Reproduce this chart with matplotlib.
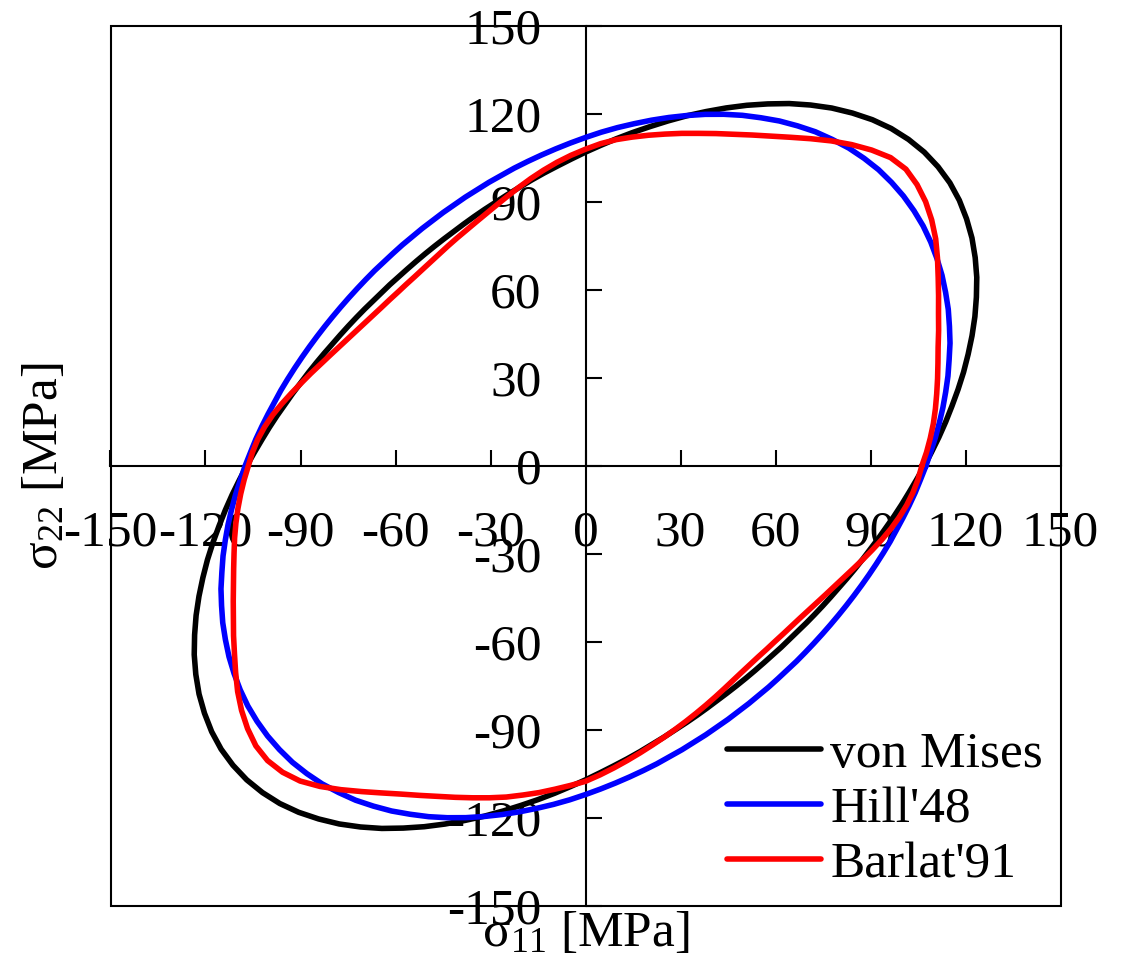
import numpy as np
import matplotlib
matplotlib.use('Agg')
import matplotlib.pyplot as plt
from matplotlib.patches import Rectangle

# ---- data: polar readings (angle in degrees, radius in MPa) of the yield loci ----
angles_deg = [i * 2.5 for i in range(144)]

von_mises_half = [107.0, 109.4, 112.0, 114.7, 117.5, 120.5, 123.6, 126.7, 129.9, 133.1,
                  136.2, 139.3, 142.1, 144.7, 146.9, 148.8, 150.2, 151.0, 151.3, 151.0,
                  150.2, 148.8, 146.9, 144.7, 142.1, 139.3, 136.2, 133.1, 129.9, 126.7,
                  123.6, 120.5, 117.5, 114.7, 112.0, 109.4, 107.0, 104.7, 102.6, 100.7,
                  98.9, 97.2, 95.7, 94.3, 93.1, 92.0, 91.0, 90.1, 89.4, 88.8,
                  88.3, 87.9, 87.6, 87.4, 87.4, 87.4, 87.6, 87.9, 88.3, 88.8,
                  89.4, 90.1, 91.0, 92.0, 93.1, 94.3, 95.7, 97.2, 98.9, 100.7,
                  102.6, 104.7]
von_mises_r = von_mises_half + von_mises_half

hill48_half = [107.5, 109.1, 110.9, 112.7, 114.6, 116.5, 118.5, 120.4, 122.5, 124.4,
               126.4, 128.2, 130.0, 131.6, 133.1, 134.4, 135.4, 136.2, 136.7, 137.0,
               136.9, 136.6, 135.9, 135.1, 133.9, 132.6, 131.0, 129.4, 127.6, 125.7,
               123.7, 121.7, 119.7, 117.7, 115.8, 113.9, 112.0, 110.2, 108.5, 106.9,
               105.4, 104.0, 102.6, 101.4, 100.2, 99.2, 98.2, 97.4, 96.6, 96.0,
               95.4, 95.0, 94.6, 94.3, 94.2, 94.1, 94.1, 94.2, 94.4, 94.7,
               95.1, 95.6, 96.2, 96.9, 97.7, 98.6, 99.6, 100.6, 101.8, 103.1,
               104.5, 105.9]
hill48_r = hill48_half + hill48_half

barlat91_r = [
    # 0 .. 87.5 deg
    106.2, 107.8, 109.3, 110.8, 112.2, 113.6, 115.1, 116.7, 118.5, 120.7,
    123.0, 125.7, 128.6, 131.8, 135.0, 137.8, 140.2, 142.0, 143.1, 142.6,
    140.6, 138.1, 135.3, 132.3, 129.4, 126.8, 124.5, 122.4, 120.6, 118.9,
    117.4, 115.9, 114.5, 113.1, 111.7, 110.0,
    # 90 .. 177.5 deg
    108.0, 106.0, 103.9, 101.7, 99.5, 97.3, 95.2, 93.3, 91.6, 90.1,
    88.8, 87.7, 86.7, 85.8, 85.1, 84.5, 84.1, 83.9, 83.8, 83.9,
    84.1, 84.5, 85.1, 85.8, 86.7, 87.8, 89.1, 90.6, 92.3, 94.1,
    96.1, 98.2, 100.3, 102.2, 103.9, 105.3,
    # 180 .. 267.5 deg
    106.5, 107.9, 109.3, 110.7, 112.1, 113.5, 114.9, 116.5, 118.3, 120.4,
    122.7, 125.3, 128.0, 131.0, 134.1, 136.9, 139.3, 141.2, 142.0, 141.6,
    140.2, 137.7, 134.7, 131.6, 128.7, 126.1, 123.9, 121.9, 120.2, 118.6,
    117.1, 115.6, 113.9, 112.3, 110.6, 109.0,
    # 270 .. 357.5 deg
    107.5, 105.4, 103.3, 101.25, 99.3, 97.45, 95.75, 94.15, 92.65, 91.25,
    89.95, 88.75, 87.65, 86.7, 85.9, 85.3, 84.9, 84.7, 84.6, 84.7,
    84.9, 85.3, 85.9, 86.7, 87.6, 88.7, 90.0, 91.5, 93.2, 95.0,
    96.9, 98.8, 100.6, 102.3, 103.8, 105.1,
]

series_labels = ["von Mises", "Hill'48", "Barlat'91"]
tick_values = [-150, -120, -90, -60, -30, 0, 30, 60, 90, 120, 150]

# ---- style ----
plt.rcParams['font.family'] = ['Liberation Serif', 'DejaVu Serif']
plt.rcParams['mathtext.fontset'] = 'custom'
plt.rcParams['mathtext.rm'] = 'Liberation Serif'
plt.rcParams['mathtext.it'] = 'Liberation Serif:italic'
plt.rcParams['axes.unicode_minus'] = False

FS = 37
fig = plt.figure(figsize=(11.3, 9.6), dpi=100)
ax = fig.add_axes([110.5 / 1130, 54 / 960, 950 / 1130, 880 / 960])

colors = ['black', 'blue', 'red']
theta = np.deg2rad(np.array(angles_deg, dtype=float))
for r, lab, col in zip([von_mises_r, hill48_r, barlat91_r], series_labels, colors):
    r = np.array(r)
    x = np.append(r * np.cos(theta), r[0] * np.cos(theta[0]))
    y = np.append(r * np.sin(theta), r[0] * np.sin(theta[0]))
    ax.plot(x, y, color=col, lw=4.0, label=lab, solid_joinstyle='round',
            solid_capstyle='round', zorder=3)

ax.set_xlim(-150, 150)
ax.set_ylim(-150, 150)
ax.spines['left'].set_position(('data', 0))
ax.spines['bottom'].set_position(('data', 0))
ax.spines['top'].set_visible(False)
ax.spines['right'].set_visible(False)
for s in ['left', 'bottom']:
    ax.spines[s].set_linewidth(1.5)
ax.add_patch(Rectangle((0, 0), 1, 1, transform=ax.transAxes, fill=False,
                       ec='black', lw=1.5, clip_on=False, zorder=2))

ax.set_xticks(tick_values)
ax.set_yticks(tick_values)
ax.set_xticklabels([str(v) for v in tick_values])
ax.set_yticklabels([str(v) for v in tick_values])
ax.tick_params(direction='in', length=11.5, width=1.5, pad=31.5, labelsize=FS)

ax.set_xlabel('σ$_{11}$ [MPa]', fontsize=FS)
ax.xaxis.set_label_coords(0.5, -0.005)
ax.set_ylabel('σ$_{22}$ [MPa]', fontsize=FS)
ax.yaxis.set_label_coords(-0.045, 0.5)

ax.legend(loc='lower right', bbox_to_anchor=(0.9816, 0.02), frameon=False,
          fontsize=FS, handlelength=1.83, handletextpad=0.18, labelspacing=0.16,
          borderpad=0, borderaxespad=0)

fig.savefig('out.png', dpi=100)
